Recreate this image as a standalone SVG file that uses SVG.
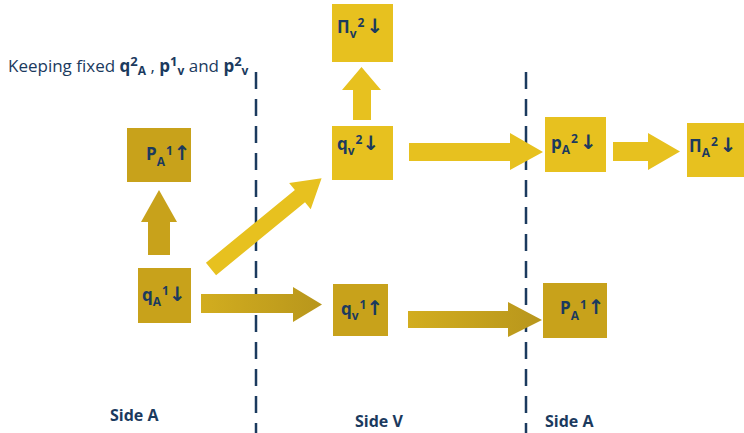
<svg xmlns="http://www.w3.org/2000/svg" width="744" height="433" viewBox="0 0 744 433">
<style>
.t{font-family:"Open Sans","Liberation Sans",sans-serif;fill:#1B3A5E}
.lbl{font-weight:bold;font-size:17px}
.s{font-size:12px}
.ar{font-family:"DejaVu Sans",sans-serif;font-size:20px;font-weight:bold}
.side{font-weight:bold;font-size:16px}
.bright{fill:#E7C11F}
.dark{fill:#C8A21B}
.div{stroke:#1B3A5E;stroke-width:2.5;stroke-dasharray:17 10;fill:none}
</style>
<defs>
<linearGradient id="g" x1="0" x2="1" y1="0" y2="0">
<stop offset="0" stop-color="#D2AD1F"/>
<stop offset="1" stop-color="#B8961C"/>
</linearGradient>
</defs>
<rect width="744" height="433" fill="#fff"/>
<g id="dividers">
<line class="div" x1="256" y1="72" x2="256" y2="433"/>
<line class="div" x1="526" y1="72" x2="526" y2="433"/>
</g>
<text class="t" x="8" y="72" font-size="17">Keeping fixed <tspan font-weight="bold">q<tspan font-size="13" dy="-6">2</tspan><tspan font-size="12" dy="9">A</tspan></tspan><tspan dy="-3"> , </tspan><tspan font-weight="bold">p<tspan font-size="13" dy="-6">1</tspan><tspan font-size="12" dy="9">v</tspan></tspan><tspan dy="-3"> and </tspan><tspan font-weight="bold">p<tspan font-size="13" dy="-6">2</tspan><tspan font-size="12" dy="9">v</tspan></tspan></text>
<g id="connectors">
<polygon class="dark" points="148,255 148,222 141,222 159,190 177,222 170,222 170,255"/>
<polygon class="bright" points="353,120 353,90 342,90 361.5,67 381,90 371,90 371,120"/>
<polygon class="bright" points="0,-8 115,-8 115,-17 143,0 115,17 115,8 0,8" transform="translate(211,269) rotate(-39.35)"/>
<polygon fill="url(#g)" points="201,294 293,294 293,287 322,304.5 293,322 293,313 201,313"/>
<polygon class="bright" points="409,143 510,143 510,133 543,152 510,170 510,161 409,161"/>
<polygon class="bright" points="613,142 648,142 648,133 680,151.5 648,170 648,161 613,161"/>
<polygon fill="url(#g)" points="408,311 508,311 508,302 542,320 508,337 508,328 408,328"/>
</g>
<g id="PA1_left"><rect class="dark" x="127" y="128" width="64" height="54"/>
<text class="t lbl" x="146" y="160">P<tspan class="s" dy="6">A</tspan><tspan class="s" dx="1" dy="-11">1</tspan><tspan class="ar" dx="1" dy="5">↑</tspan></text></g>
<g id="qA1"><rect class="dark" x="138" y="268" width="53" height="55"/>
<text class="t lbl" x="142" y="301">q<tspan class="s" dy="5">A</tspan><tspan class="s" dx="1" dy="-11">1</tspan><tspan class="ar" dy="6">↓</tspan></text></g>
<g id="qv1"><rect class="dark" x="333" y="284" width="55" height="52"/>
<text class="t lbl" x="341" y="315">q<tspan class="s" dy="5">v</tspan><tspan class="s" dx="1" dy="-11">1</tspan><tspan class="ar" dy="6">↑</tspan></text></g>
<g id="PA1_right"><rect class="dark" x="543" y="283" width="64" height="55"/>
<text class="t lbl" x="560" y="314">P<tspan class="s" dy="6">A</tspan><tspan class="s" dx="1" dy="-11">1</tspan><tspan class="ar" dx="1" dy="5">↑</tspan></text></g>
<g id="Piv2"><rect class="bright" x="332" y="4" width="61" height="58"/>
<text class="t lbl" x="337" y="33">Π<tspan class="s" dy="5">v</tspan><tspan class="s" dx="1" dy="-11">2</tspan><tspan class="ar" dx="2" dy="6">↓</tspan></text></g>
<g id="qv2"><rect class="bright" x="332" y="126" width="61" height="54"/>
<text class="t lbl" x="337" y="150">q<tspan class="s" dy="5">v</tspan><tspan class="s" dx="1" dy="-11">2</tspan><tspan class="ar" dy="6">↓</tspan></text></g>
<g id="pA2"><rect class="bright" x="545" y="117" width="61" height="55"/>
<text class="t lbl" x="551" y="149">p<tspan class="s" dy="5">A</tspan><tspan class="s" dx="1" dy="-11">2</tspan><tspan class="ar" dx="2" dy="6">↓</tspan></text></g>
<g id="PiA2"><rect class="bright" x="687" y="123" width="57" height="54"/>
<text class="t lbl" x="689" y="152">Π<tspan class="s" dy="5">A</tspan><tspan class="s" dx="1" dy="-11">2</tspan><tspan class="ar" dx="2" dy="6">↓</tspan></text></g>
<text class="t side" x="110" y="421">Side A</text>
<text class="t side" x="355" y="427">Side V</text>
<text class="t side" x="545" y="427">Side A</text>
</svg>
